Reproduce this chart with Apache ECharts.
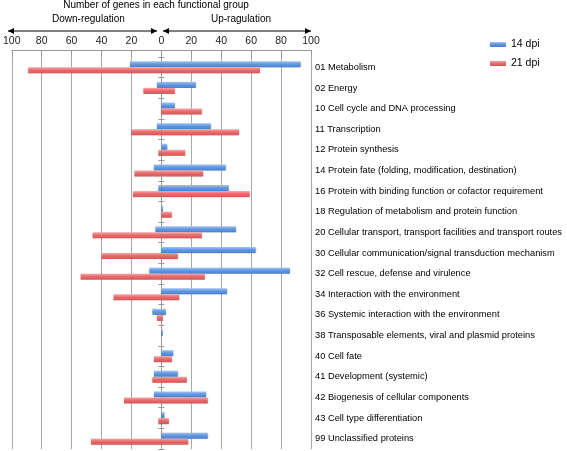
<!DOCTYPE html>
<html>
<head>
<meta charset="utf-8">
<script src="https://cdn.jsdelivr.net/npm/echarts@6/dist/echarts.min.js"></script>
<style>html,body{margin:0;padding:0;background:#fff}#c{width:567px;height:451px}</style>
</head>
<body>
<div id="c"></div>
<script>
const categories = [
  "01 Metabolism","02 Energy","10 Cell cycle and DNA processing","11 Transcription",
  "12 Protein synthesis","14 Protein fate (folding, modification, destination)",
  "16 Protein with binding function or cofactor requirement",
  "18 Regulation of metabolism and protein function",
  "20 Cellular transport, transport facilities and transport routes",
  "30 Cellular communication/signal transduction mechanism",
  "32 Cell rescue, defense and virulence","34 Interaction with the environment",
  "36 Systemic interaction with the environment",
  "38 Transposable elements, viral and plasmid proteins","40 Cell fate",
  "41 Development (systemic)","42 Biogenesis of cellular components",
  "43 Cell type differentiation","99 Unclassified proteins"
];
const up14   = [93,23,9,33,4,43,45,1,50,63,86,44,3,1,8,11,30,2,31];
const down14 = [-21,-3,0,-3,0,-5,-2,0,-4,0,-8,0,-6,0,0,-5,-5,0,0];
const up21   = [66,9,27,52,16,28,59,7,27,11,29,12,1,0,7,17,31,5,18];
const down21 = [-89,-12,0,-20,-2,-18,-19,0,-46,-40,-54,-32,-3,0,-5,-6,-25,-2,-47];

const F = 'Liberation Sans, Arial, sans-serif';
const blue = new echarts.graphic.LinearGradient(0,0,0,1,[{offset:0,color:'#a3c4f2'},{offset:0.45,color:'#6299e2'},{offset:1,color:'#4a80cf'}]);
const red = new echarts.graphic.LinearGradient(0,0,0,1,[{offset:0,color:'#f5a8a8'},{offset:0.45,color:'#e96b6b'},{offset:1,color:'#d45757'}]);
function bar(name, data, stack, color){
  return {name, type:'bar', data, stack, yAxisIndex:0, barWidth:6, barGap:'0%',
    itemStyle:{color, shadowColor:'rgba(0,0,0,0.25)', shadowBlur:1.5, shadowOffsetY:0.5},
    emphasis:{disabled:true}, animation:false};
}
const chart = echarts.init(document.getElementById('c'), null, {renderer:'canvas'});
const axisGray = '#999';
function arrow(x1,x2,y){
  return [
    {type:'line', shape:{x1:x1,y1:y,x2:x2,y2:y}, style:{stroke:'#000',lineWidth:1.2}},
    {type:'polygon', shape:{points:[[x1,y],[x1+6,y-3],[x1+6,y+3]]}, style:{fill:'#000'}},
    {type:'polygon', shape:{points:[[x2,y],[x2-6,y-3],[x2-6,y+3]]}, style:{fill:'#000'}}
  ];
}
chart.setOption({
  animation:false,
  grid:{left:8,right:256,top:57,bottom:2},
  title:{text:'Number of genes in each functional group', left:156, textAlign:'center', top:0, padding:0,
    textStyle:{fontFamily:F,fontSize:10,fontWeight:'normal',color:'#000'}},
  legend:{data:['14 dpi','21 dpi'], orient:'vertical', left:485, top:34, itemWidth:16, itemHeight:5, itemGap:8,
    textStyle:{fontFamily:F,fontSize:10.5,color:'#000'}, icon:'rect', selectedMode:false},
  graphic:[
    {type:'text', left:52, top:14, style:{text:'Down-regulation', font:'10px '+F, fill:'#000'}},
    {type:'text', left:211, top:14, style:{text:'Up-ragulation', font:'10px '+F, fill:'#000'}},
    ...arrow(8,157,31), ...arrow(163,311,31)
  ],
  xAxis:{type:'value', min:-100, max:100, interval:20, position:'top', offset:7,
    axisLine:{show:true, lineStyle:{color:axisGray}},
    axisTick:{show:true, inside:true, length:7, lineStyle:{color:axisGray}},
    axisLabel:{margin:3, fontFamily:F, fontSize:10.5, color:'#222', formatter:v=>String(Math.abs(v))},
    splitLine:{show:true, lineStyle:{color:'#a8a8a8', width:1}}},
  yAxis:[
    {type:'category', data:categories, inverse:true, position:'right',
      axisLine:{show:false}, axisTick:{show:false}, splitLine:{show:false},
      axisLabel:{margin:4, fontFamily:F, fontSize:9.3, color:'#000'}},
    {type:'category', data:categories, inverse:true, position:'left',
      axisLine:{show:true, onZero:true, onZeroAxisIndex:0, lineStyle:{color:axisGray}},
      axisTick:{show:true, length:3, lineStyle:{color:axisGray}}, axisLabel:{show:false}},
    {type:'category', data:categories, inverse:true, position:'right',
      axisLine:{show:true, onZero:true, onZeroAxisIndex:0, lineStyle:{color:axisGray}},
      axisTick:{show:true, length:3, lineStyle:{color:axisGray}}, axisLabel:{show:false}}
  ],
  series:[
    bar('14 dpi', up14, 'a', blue),
    bar('14 dpi', down14, 'a', blue),
    bar('21 dpi', up21, 'b', red),
    bar('21 dpi', down21, 'b', red)
  ]
});
</script>
</body>
</html>
